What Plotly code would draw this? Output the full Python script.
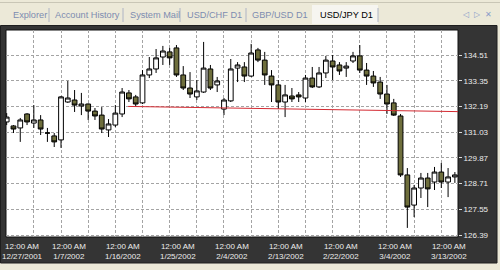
import plotly.graph_objects as go

# ---------------- data ----------------
dates = ["2001-12-27", "2001-12-28", "2001-12-30", "2001-12-31", "2002-01-02", "2002-01-03", "2002-01-04", "2002-01-06",
         "2002-01-07", "2002-01-08", "2002-01-09", "2002-01-10", "2002-01-11", "2002-01-13", "2002-01-14", "2002-01-15",
         "2002-01-16", "2002-01-17", "2002-01-18", "2002-01-20", "2002-01-21", "2002-01-22", "2002-01-23", "2002-01-24",
         "2002-01-25", "2002-01-27", "2002-01-28", "2002-01-29", "2002-01-30", "2002-01-31", "2002-02-01", "2002-02-03",
         "2002-02-04", "2002-02-05", "2002-02-06", "2002-02-07", "2002-02-08", "2002-02-10", "2002-02-11", "2002-02-12",
         "2002-02-13", "2002-02-14", "2002-02-15", "2002-02-17", "2002-02-18", "2002-02-19", "2002-02-20", "2002-02-21",
         "2002-02-22", "2002-02-24", "2002-02-25", "2002-02-26", "2002-02-27", "2002-02-28", "2002-03-01", "2002-03-03",
         "2002-03-04", "2002-03-05", "2002-03-06", "2002-03-07", "2002-03-08", "2002-03-10", "2002-03-11", "2002-03-12",
         "2002-03-13", "2002-03-14", "2002-03-15"]

opens = [131.49, 131.31, 131.22, 131.85, 131.44, 131.58, 130.99, 130.86, 130.68, 132.39,
         132.48, 132.21, 132.30, 131.98, 131.80, 131.13, 131.35, 131.85, 132.80, 132.62,
         132.35, 133.61, 133.88, 134.42, 134.65, 134.83, 133.61, 133.02, 132.62, 132.84,
         133.88, 133.16, 132.07, 132.44, 133.92, 133.97, 133.56, 134.74, 134.28, 133.56,
         133.16, 132.39, 132.66, 132.71, 132.57, 133.47, 133.07, 133.70, 134.24, 134.06,
         133.92, 134.24, 134.47, 133.83, 133.56, 133.29, 132.75, 132.35, 131.76, 129.10,
         127.74, 128.51, 128.96, 128.78, 129.23, 128.78, 129.01]
closes = [131.71, 131.17, 131.58, 131.49, 131.58, 131.17, 130.99, 130.59, 132.62, 132.57,
          132.25, 132.30, 131.98, 131.76, 131.17, 131.40, 131.89, 132.84, 132.53, 132.30,
          133.61, 133.88, 134.38, 134.69, 134.38, 133.61, 133.02, 132.75, 132.89, 133.92,
          133.02, 133.34, 132.48, 133.88, 134.06, 133.56, 134.60, 134.28, 133.61, 133.16,
          132.39, 132.71, 132.53, 132.62, 133.47, 133.07, 133.70, 134.28, 133.97, 133.79,
          134.01, 134.47, 133.83, 133.56, 133.25, 132.75, 132.30, 131.80, 129.10, 127.65,
          128.51, 128.96, 128.47, 129.23, 128.78, 129.01, 129.10]
highs = [131.89, 131.35, 131.67, 131.89, 132.25, 131.80, 131.22, 130.99, 132.66, 133.34,
         132.93, 132.80, 132.32, 132.12, 132.16, 131.62, 132.25, 133.02, 132.93, 132.71,
         133.83, 134.42, 134.78, 134.92, 134.83, 134.96, 134.01, 133.74, 133.38, 135.10,
         134.06, 133.52, 132.57, 134.33, 134.19, 134.19, 135.01, 134.83, 134.65, 133.83,
         133.38, 133.16, 133.02, 132.84, 133.61, 133.97, 133.97, 134.47, 134.51, 134.19,
         134.19, 134.65, 134.96, 134.15, 133.79, 133.52, 133.16, 132.53, 131.85, 129.41,
         128.65, 129.19, 129.19, 129.46, 129.64, 129.41, 129.23]
lows = [131.35, 130.99, 130.59, 131.35, 131.22, 130.90, 130.59, 130.36, 130.32, 132.35,
        131.94, 131.80, 131.58, 131.58, 130.99, 130.81, 131.26, 131.71, 132.39, 132.21,
        132.30, 133.47, 133.70, 134.06, 134.06, 133.52, 132.93, 132.57, 132.48, 132.80,
        132.93, 132.84, 131.80, 132.39, 133.29, 133.29, 133.52, 134.19, 133.16, 132.39,
        132.07, 131.71, 132.39, 132.39, 132.39, 133.02, 133.02, 133.47, 133.38, 133.61,
        133.52, 134.15, 133.70, 133.16, 133.07, 132.53, 131.85, 131.76, 129.01, 126.71,
        127.20, 128.06, 127.65, 128.42, 128.51, 128.10, 128.74]

# red trend line (bar position, price)
trend_bars = [17.9, 66.6]
trend_prices = [132.19, 131.955]

# axis labels
price_ticks = [134.51, 133.35, 132.19, 131.03, 129.87, 128.71, 127.55, 126.39]
label_dates = ["2001-12-27", "2002-01-07", "2002-01-16", "2002-01-25", "2002-02-04",
               "2002-02-13", "2002-02-22", "2002-03-04", "2002-03-13"]
label_texts = ["12/27/2001", "1/7/2002", "1/16/2002", "1/25/2002", "2/4/2002",
               "2/13/2002", "2/22/2002", "3/4/2002", "3/13/2002"]
tabs = ["Explorer", "Account History", "System Mail", "USD/CHF D1", "GBP/USD D1", "USD/JPY D1"]

# ---------------- layout geometry ----------------
W_, H_ = 500, 270
L, R, T, B = 6, 42, 30, 33
PW = W_ - L - R
PH = H_ - T - B


def px(x):
    return (x - L) / PW


def py(y):
    return (H_ - B - y) / PH


FONT = "Liberation Sans, Arial, sans-serif"
bars = list(range(len(dates)))

fig = go.Figure()
fig.add_trace(go.Candlestick(
    x=bars, open=opens, high=highs, low=lows, close=closes,
    increasing=dict(line=dict(color="#000000", width=1), fillcolor="#ffffff"),
    decreasing=dict(line=dict(color="#000000", width=1), fillcolor="#6e6e3c"),
    whiskerwidth=0, showlegend=False, text=dates, hoverinfo="text+y"))
fig.add_trace(go.Scatter(
    x=trend_bars, y=trend_prices, mode="lines",
    line=dict(color="#d42a32", width=1), showlegend=False, hoverinfo="skip"))

shapes = [
    # top thin line of tab strip
    dict(type="line", xref="paper", yref="paper", x0=px(0), x1=px(500), y0=py(2.5), y1=py(2.5),
         line=dict(color="#c9c6b6", width=1), layer="below"),
    # selected tab
    dict(type="rect", xref="paper", yref="paper", x0=px(312), x1=px(378), y0=py(24), y1=py(5),
         fillcolor="#f6f5f0", line=dict(width=0), layer="below"),
    # dark frame
    dict(type="rect", xref="paper", yref="paper", x0=px(0.5), x1=px(497), y0=py(263), y1=py(25.5),
         fillcolor="#343434", line=dict(color="#1e1e1e", width=1), layer="below"),
    # white plot area
    dict(type="rect", xref="paper", yref="paper", x0=0, x1=1, y0=0, y1=1,
         fillcolor="#ffffff", line=dict(color="#111111", width=1), layer="below"),
]
for sx in [49, 123, 180, 246, 378]:
    shapes.append(dict(type="line", xref="paper", yref="paper", x0=px(sx), x1=px(sx), y0=py(8), y1=py(22),
                       line=dict(color="#aeb4c4", width=1), layer="below"))

annotations = []
tab_left = [11, 53, 128, 185, 250, 318]
for i, t in enumerate(tabs):
    annotations.append(dict(text=t, xref="paper", yref="paper", x=px(tab_left[i]), y=py(15),
                            xanchor="left", yanchor="middle", showarrow=False,
                            font=dict(family=FONT, size=9.2,
                                      color="#000000" if i == len(tabs) - 1 else "#7d8cb0")))
for sym, sx in [("◁", 465), ("▷", 477), ("✕", 488)]:
    annotations.append(dict(text=sym, xref="paper", yref="paper", x=px(sx), y=py(14),
                            xanchor="center", yanchor="middle", showarrow=False,
                            font=dict(family="DejaVu Sans", size=8, color="#8a9cc8")))
for k, d in enumerate(label_dates):
    annotations.append(dict(text="12:00 AM<br>" + label_texts[k], xref="x", yref="paper",
                            x=bars[dates.index(d)], y=py(240), xanchor="center", yanchor="top",
                            xshift=16 if k == 0 else 8, showarrow=False, align="center",
                            font=dict(family=FONT, size=8, color="#ececec")))

fig.update_layout(
    width=W_, height=H_,
    margin=dict(l=L, r=R, t=T, b=B, pad=0),
    paper_bgcolor="#ece9d8", plot_bgcolor="#ffffff",
    shapes=shapes, annotations=annotations,
    showlegend=False,
    xaxis=dict(range=[-0.1, 66.46], tickmode="linear", tick0=0, dtick=4, showticklabels=False,
               showgrid=True, gridcolor="#a4a4a4", griddash="3px,2px", gridwidth=1,
               zeroline=False, showline=False, ticks="", rangeslider=dict(visible=False),
               fixedrange=True),
    yaxis=dict(range=[126.30, 135.638], side="right", tickmode="array", tickvals=price_ticks,
               ticktext=[f"{v:.2f}" for v in price_ticks],
               showgrid=True, gridcolor="#a4a4a4", griddash="3px,2px", gridwidth=1,
               zeroline=False, showline=False, ticks="outside", ticklen=3, tickcolor="#dcdcdc",
               tickfont=dict(family=FONT, size=8, color="#ececec"), fixedrange=True),
    boxgap=0.3, boxgroupgap=0.0,
)

fig.write_html("out.html")
